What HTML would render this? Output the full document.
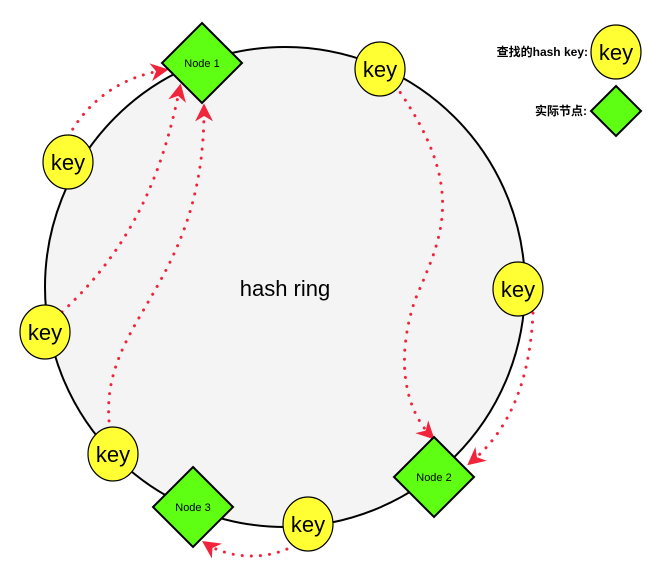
<!DOCTYPE html>
<html><head><style>body{margin:0;background:#fff}svg{display:block}</style></head><body>
<svg width="668" height="575" viewBox="0 0 668 575" xmlns="http://www.w3.org/2000/svg" font-family="Liberation Sans, Noto Sans CJK SC, sans-serif">
<defs><marker id="a" viewBox="0 0 10 10" refX="8" refY="5" markerWidth="6" markerHeight="6" orient="auto"><path d="M0,0 L10,5 L0,10 L3,5 Z" fill="#f0243a"/></marker></defs>
<circle cx="285" cy="287" r="240" fill="#f4f4f4" stroke="#000" stroke-width="2"/>
<text x="285" y="296" font-size="22" text-anchor="middle">hash ring</text>
<g fill="none" stroke="#f0243a" stroke-width="3" stroke-linecap="round" stroke-dasharray="0.1 9" marker-end="url(#a)">
<path d="M68,137 Q100,80 165,70"/>
<path d="M62,312 C140,240 165,160 180,87"/>
<path d="M110,430 C95,320 205,290 204,107"/>
<path d="M395,85 C470,190 440,240 415,300 C395,360 405,410 432,437"/>
<path d="M533,313 C530,380 510,430 470,463"/>
<path d="M295,545 C270,560 230,560 205,543"/>
</g>
<g stroke="#000" stroke-width="2" fill="#5fff14">
<polygon points="202,23 242,63 202,103 162,63"/>
<polygon points="434,437 474,477 434,517 394,477"/>
<polygon points="193,467 233,507 193,547 153,507"/>
<polygon points="616,86 641,111 616,136 591,111"/>
</g>
<g font-size="11" text-anchor="middle"><text x="202" y="67">Node 1</text><text x="434" y="481">Node 2</text><text x="193" y="511">Node 3</text></g>
<g fill="#ffff33" stroke="#000" stroke-width="1.2">
<ellipse cx="380" cy="69" rx="25" ry="27"/><ellipse cx="68" cy="162" rx="25" ry="27"/><ellipse cx="45" cy="332" rx="25" ry="27"/><ellipse cx="113" cy="454" rx="25" ry="27"/><ellipse cx="518" cy="289" rx="25" ry="27"/><ellipse cx="308" cy="524" rx="25" ry="27"/><ellipse cx="616" cy="52" rx="25" ry="27"/>
</g>
<g font-size="22" text-anchor="middle"><text x="380" y="77">key</text><text x="68" y="170">key</text><text x="45" y="340">key</text><text x="113" y="462">key</text><text x="518" y="297">key</text><text x="308" y="532">key</text><text x="616" y="60">key</text></g>
<g font-size="12" font-weight="bold" text-anchor="end"><text x="588" y="56">查找的hash key:</text><text x="587" y="115">实际节点:</text></g>
</svg>
</body></html>
